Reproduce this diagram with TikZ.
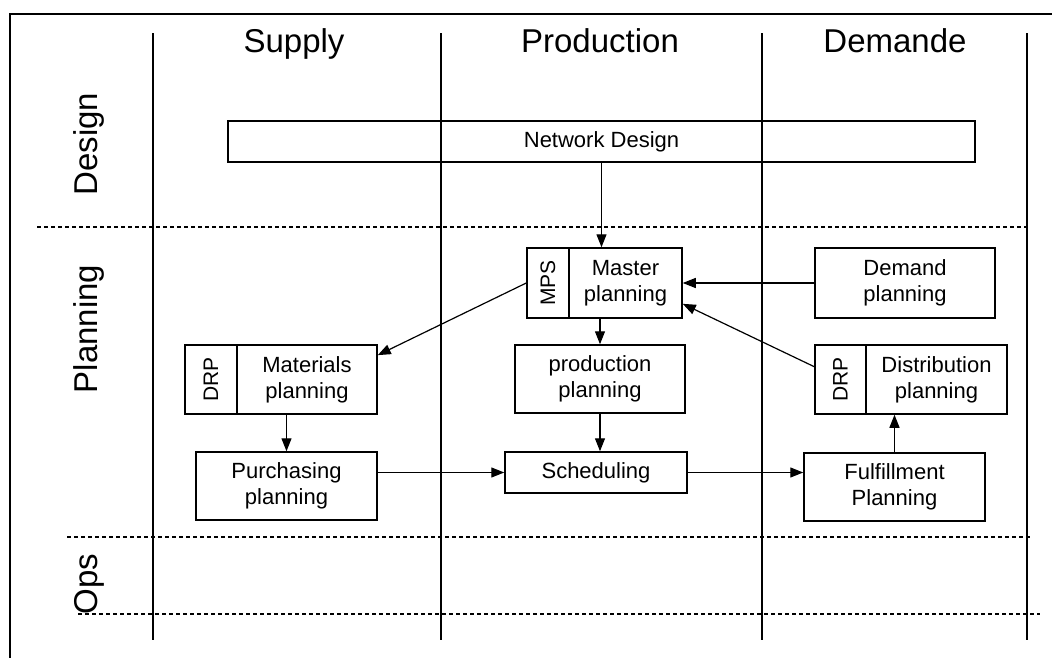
\documentclass[tikz,border=0pt]{standalone}
\usepackage{fontspec}
\setmainfont{Liberation Sans}
\usepackage{graphicx}
\usetikzlibrary{arrows.meta,positioning}

\newcommand{\headfont}{\fontsize{33}{38}\selectfont}
\newcommand{\boxfont}{\fontsize{22}{26}\selectfont}
\newcommand{\stripfont}{\fontsize{21}{24}\selectfont}

\tikzset{
	box/.style={draw, line width=1.5pt, inner sep=0pt, align=center, font=\boxfont},
	strip/.style={draw, line width=1.5pt, inner sep=0pt, font=\stripfont},
	head/.style={inner sep=0pt, font=\headfont}
}

\begin{document}
\begin{tikzpicture}[x=1pt,y=-1pt,
	flow/.style={-{Triangle[length=13pt,width=10pt]}, line width=1.2pt},
	lane/.style={line width=1.5pt},
	sep/.style={line width=1.5pt, dash pattern=on 4pt off 3pt}]
	\useasboundingbox (0,0) rectangle (1052,657);

	% cadre
	\draw [line width=2.6pt] (10,670) -- (10,14) -- (1070,14);

	% colonnes et niveaux
	\foreach \x in {153,441,762,1027}
		\draw [lane] (\x,33) -- (\x,640);
	\draw [sep] (37,227) -- (1030,227);
	\draw [sep] (67,537) -- (1030,537);
	\draw [sep] (78,614) -- (1040,614);

	% titres
	\node [head, anchor=base] (supply) at (294,52) {Supply};
	\node [head, anchor=base] (production) at (600,52) {Production};
	\node [head, anchor=base] (demande) at (895,52) {Demande};
	\node [head, rotate=90, anchor=base] (design) at (97,144) {Design};
	\node [head, rotate=90, anchor=base] (planning) at (97,329) {Planning};
	\node [head, rotate=90, anchor=base] (ops) at (97,584) {Ops};

	% boites
	\node [box, minimum width=747pt, minimum height=41pt] (net) at (601.5,141.5) {Network Design};
	\node [box, minimum width=113pt, minimum height=70pt] (master) at (625.5,283) {Master\\planning};
	\node [strip, minimum width=42pt, minimum height=70pt, left=-1.5pt of master] (mps) {\rotatebox{90}{MPS}};
	\node [box, minimum width=180pt, minimum height=70pt] (demand) at (905,283) {Demand\\planning};
	\node [box, minimum width=140pt, minimum height=69pt] (mat) at (307,379.5) {Materials\\planning};
	\node [strip, minimum width=52pt, minimum height=69pt, left=-1.5pt of mat] (drpmat) {\rotatebox{90}{DRP}};
	\node [box, minimum width=170pt, minimum height=68pt] (prod) at (600,379) {production\\planning};
	\node [box, minimum width=141pt, minimum height=69pt] (dist) at (936.5,379.5) {Distribution\\planning};
	\node [strip, minimum width=51pt, minimum height=69pt, left=-1.5pt of dist] (drpdist) {\rotatebox{90}{DRP}};
	\node [box, minimum width=181pt, minimum height=68pt] (purch) at (286.5,486) {Purchasing\\planning};
	\node [box, minimum width=182pt, minimum height=41pt] (sched) at (596,472.5) {Scheduling};
	\node [box, minimum width=181pt, minimum height=68pt] (fulfil) at (894.5,487) {Fulfillment\\Planning};

	% fleches
	\draw [flow] (net.south) -- (net.south |- master.north);
	\draw [flow] (demand.west) -- (master.east);
	\draw [flow] (drpdist.154) -- (master.-20);
	\draw [flow] (mps.west) -- (mat.19);
	\draw [flow] (prod.north |- master.south) -- (prod.north);
	\draw [flow] (purch.north |- mat.south) -- (purch.north);
	\draw [flow] (prod.south) -- (prod.south |- sched.north);
	\draw [flow] (purch.east |- sched.west) -- (sched.west);
	\draw [flow] (sched.east) -- (sched.east -| fulfil.west);
	\draw [flow] (fulfil.north) -- (fulfil.north |- dist.south);
\end{tikzpicture}
\end{document}
